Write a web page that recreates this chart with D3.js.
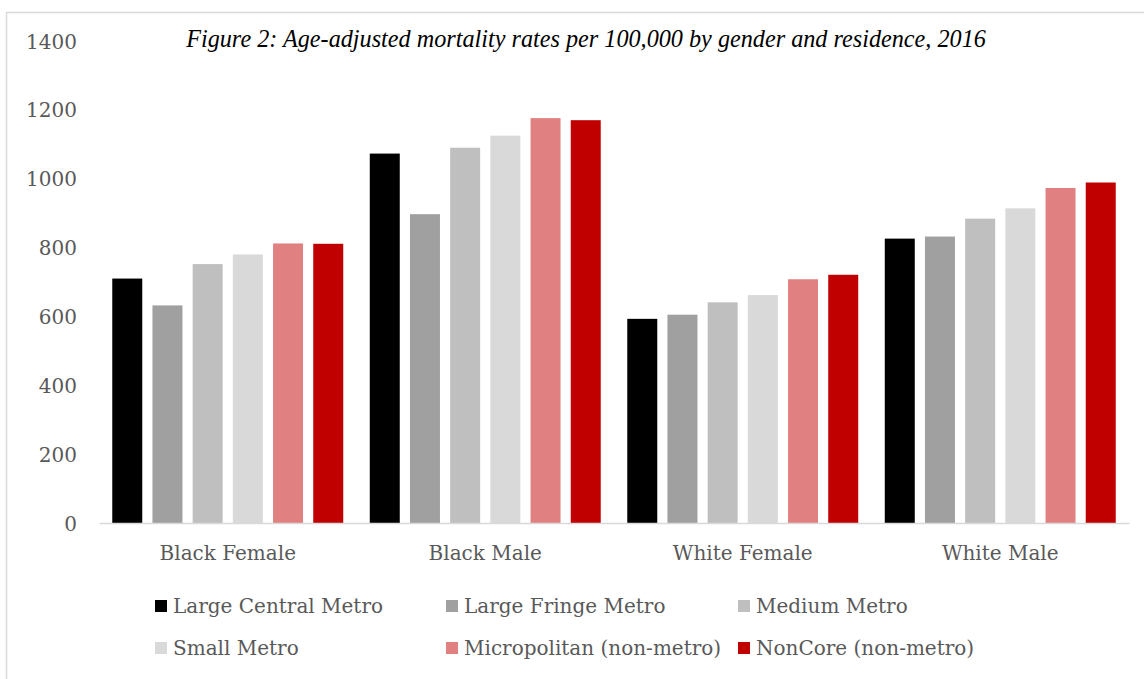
<!DOCTYPE html>
<html>
<head>
<meta charset="utf-8">
<script src="https://cdn.jsdelivr.net/npm/d3@7"></script>
<style>
  html, body { margin: 0; padding: 0; background: #fff; }
  svg { display: block; }
</style>
</head>
<body>
<svg id="chart" width="1144" height="679"></svg>
<script>
// ---- data ----
const categories = ["Black Female", "Black Male", "White Female", "White Male"];
const seriesNames = ["Large Central Metro", "Large Fringe Metro", "Medium Metro", "Small Metro", "Micropolitan (non-metro)", "NonCore (non-metro)"];
const largeCentralMetro = [710, 1073, 593, 826];
const largeFringeMetro  = [632, 897, 605, 832];
const mediumMetro       = [752, 1090, 641, 884];
const smallMetro        = [780, 1125, 662, 914];
const micropolitan      = [812, 1176, 708, 973];
const nonCore           = [811, 1170, 721, 989];
const yTicks = [0, 200, 400, 600, 800, 1000, 1200, 1400];
const titleText = "Figure 2: Age-adjusted mortality rates per 100,000 by gender and residence, 2016";

const seriesValues = [largeCentralMetro, largeFringeMetro, mediumMetro, smallMetro, micropolitan, nonCore];
const colors = ["#000000", "#a0a0a0", "#bfbfbf", "#d9d9d9", "#e08080", "#c00000"];

const svg = d3.select("#chart");
const textColor = "#595959";
const axisFont = "'DejaVu Serif', serif";

// chart frame
svg.append("rect")
  .attr("x", 6.5).attr("y", 12.5)
  .attr("width", 1400).attr("height", 1000)
  .attr("fill", "none").attr("stroke", "#d9d9d9").attr("stroke-width", 1.5);

// scales
const x0 = d3.scaleBand().domain(categories).range([99, 1129]).paddingInner(0).paddingOuter(0);
const x1 = d3.scaleBand().domain(seriesNames).range([0, x0.bandwidth()]).paddingInner(0.2537).paddingOuter(0.33);
const y = d3.scaleLinear().domain([0, 1400]).range([523, 41]);

// y axis labels (no line)
const yAxis = d3.axisLeft(y).tickValues(yTicks).tickSize(0).tickPadding(0).tickFormat(d3.format("d"));
const gy = svg.append("g").attr("transform", "translate(77,0)").call(yAxis);
gy.select(".domain").remove();
gy.selectAll("text")
  .attr("font-family", axisFont).attr("font-size", 20).attr("fill", textColor)
  .attr("dy", "0.35em");

// bars
const rows = categories.map((c, i) => ({ cat: c, vals: seriesNames.map((s, j) => ({ s, j, v: seriesValues[j][i] })) }));
const groups = svg.append("g").selectAll("g").data(rows).join("g")
  .attr("transform", d => `translate(${x0(d.cat)},0)`);
groups.selectAll("rect").data(d => d.vals).join("rect")
  .attr("x", d => x1(d.s))
  .attr("width", x1.bandwidth())
  .attr("y", d => y(d.v))
  .attr("height", d => y(0) - y(d.v))
  .attr("fill", d => colors[d.j]);

// x axis
const xAxis = d3.axisBottom(x0).tickSize(0).tickPadding(0);
const gx = svg.append("g").attr("transform", `translate(0,${y(0)})`).call(xAxis);
gx.select(".domain").attr("stroke", "#d9d9d9").attr("stroke-width", 1.5);
gx.selectAll("text")
  .attr("font-family", axisFont).attr("font-size", 20).attr("fill", textColor)
  .attr("dy", null).attr("y", 37);

// title
const title = svg.append("text")
  .attr("x", 586).attr("y", 47)
  .attr("text-anchor", "middle")
  .attr("font-family", "'Liberation Serif', 'Times New Roman', serif")
  .attr("font-style", "italic")
  .attr("font-size", 24)
  .attr("fill", "#000")
  .text(titleText);
const tw = title.node().getComputedTextLength();
title.attr("font-size", 24 * 800 / tw);

// legend
const legendCols = [155, 446, 738];
const legendRows = [606, 648];
const legend = svg.append("g").selectAll("g").data(seriesNames).join("g")
  .attr("transform", (d, i) => `translate(${legendCols[i % 3]},${legendRows[Math.floor(i / 3)]})`);
legend.append("rect")
  .attr("x", 0).attr("y", -6).attr("width", 12).attr("height", 12)
  .attr("fill", (d, i) => colors[i]);
legend.append("text")
  .attr("x", 18).attr("y", 0).attr("dy", "0.35em")
  .attr("font-family", axisFont).attr("font-size", 20).attr("fill", textColor)
  .text(d => d);
</script>
</body>
</html>
